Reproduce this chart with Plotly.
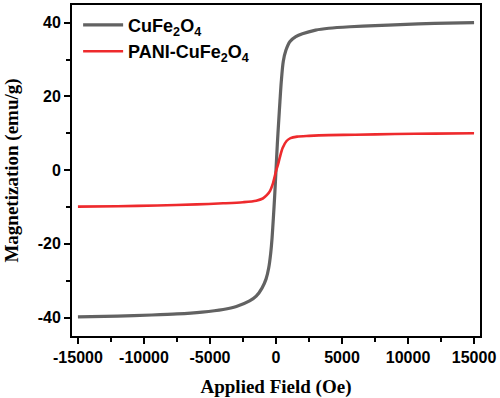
import plotly.graph_objects as go

# CuFe2O4 magnetization curve (field in Oe, M in emu/g)
field_cufe = [-15000, -12000, -9400, -7500, -5600, -4000, -3000, -2000, -1500, -1060, -750,
              -550, -400, -300, -200, -100, 0, 100, 200, 300, 400, 550, 750, 1060, 1500,
              2000, 3000, 4000, 5600, 7500, 9400, 12000, 15000]
m_cufe = [-39.8, -39.6, -39.3, -39.0, -38.5, -37.8, -37.0, -35.5, -34.2, -32.0, -29.5,
          -26.5, -22.5, -18.5, -13.0, -7.0, 0.0, 7.0, 13.0, 18.7, 24.0, 29.5, 32.5, 34.9, 36.2,
          37.0, 38.0, 38.5, 38.9, 39.2, 39.5, 39.8, 40.0]

# PANI-CuFe2O4 magnetization curve
field_pani = [-15000, -12000, -9000, -6000, -4000, -2500, -1500, -1000, -700, -450, -250,
              0, 150, 300, 500, 800, 1100, 1600, 2500, 4000, 6000, 9000, 12000, 15000]
m_pani = [-9.9, -9.8, -9.6, -9.3, -9.0, -8.7, -8.3, -7.7, -6.8, -5.6, -3.8,
          -0.3, 1.5, 3.6, 6.0, 7.9, 8.7, 9.1, 9.3, 9.5, 9.6, 9.8, 9.9, 10.0]

x_ticks = [-15000, -10000, -5000, 0, 5000, 10000, 15000]
y_ticks = [-40, -20, 0, 20, 40]

fig = go.Figure()
fig.add_trace(go.Scatter(x=field_cufe, y=m_cufe, mode="lines",
                         name="CuFe<sub>2</sub>O<sub>4</sub>", legendgroup="a",
                         line=dict(color="#626262", width=3.2, shape="spline", smoothing=0.8)))
fig.add_trace(go.Scatter(x=field_pani, y=m_pani, mode="lines",
                         name="PANI-CuFe<sub>2</sub>O<sub>4</sub>", legendgroup="b",
                         line=dict(color="#ee2a2d", width=2.6, shape="spline", smoothing=0.8)))

axis_common = dict(showline=True, linewidth=2, linecolor="black", mirror=True,
                   ticks="outside", ticklen=6, tickwidth=2, tickcolor="black",
                   showgrid=False, zeroline=False,
                   tickfont=dict(family="Liberation Sans, Arial", size=16, color="black", weight="bold"),
                   minor=dict(ticks="outside", ticklen=4, tickwidth=2, tickcolor="black", showgrid=False))

fig.update_xaxes(range=[-15450, 15450], tickvals=x_ticks,
                 ticktext=[f"{v:d}" for v in x_ticks],
                 minor_dtick=2500, minor_tick0=0,
                 title=dict(text="Applied Field (Oe)", standoff=14,
                            font=dict(family="Liberation Serif, Times New Roman", size=19, color="black", weight="bold")),
                 **axis_common)
fig.update_yaxes(range=[-45, 44.8], tickvals=y_ticks,
                 ticktext=[f"{v:d}" for v in y_ticks],
                 minor_dtick=10, minor_tick0=0,
                 title=dict(text="Magnetization (emu/g)", standoff=14,
                            font=dict(family="Liberation Serif, Times New Roman", size=19, color="black", weight="bold")),
                 **axis_common)

fig.update_layout(width=500, height=398,
                  margin=dict(l=72, r=20, t=3, b=62),
                  plot_bgcolor="white", paper_bgcolor="white",
                  legend=dict(x=0.015, y=0.995, xanchor="left", yanchor="top",
                              bgcolor="rgba(0,0,0,0)", traceorder="grouped", tracegroupgap=0,
                              itemwidth=40,
                              font=dict(family="Liberation Sans, Arial", size=18, color="black", weight="bold")),
                  showlegend=True)

fig.write_html("out.html", config={"displayModeBar": False},
               post_script="document.body.style.margin='0';document.body.style.padding='0';")
